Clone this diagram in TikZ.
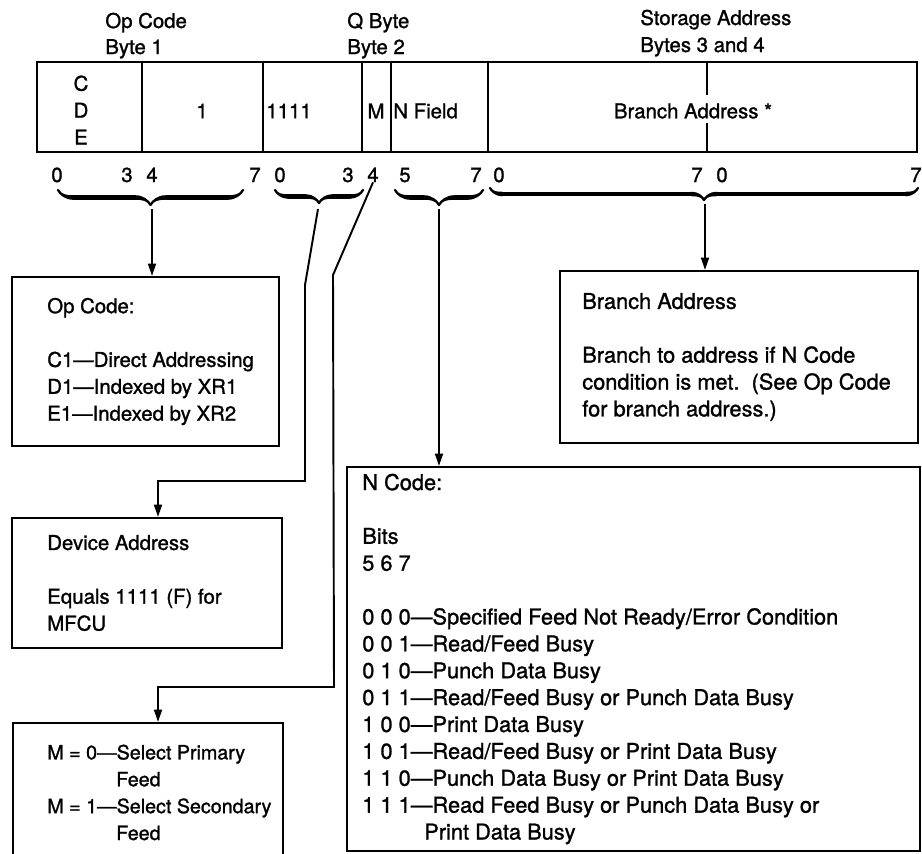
\documentclass[tikz,border=0pt]{standalone}
\usepackage{fontspec}
\setmainfont{TeX Gyre Heros}[RawFeature={embolden=1.2}]
\usetikzlibrary{arrows.meta, positioning, fit, decorations.pathreplacing, calligraphy}

\newcommand{\ibm}{\fontsize{11.6}{15.3}\selectfont}
\newcommand{\ibmnarrow}{\fontsize{11.2}{15.3}\selectfont}
\newcommand{\ibmwide}{\fontsize{12.4}{15.3}\selectfont}

\begin{document}
\begin{tikzpicture}[
  x=0.02cm, y=-0.02cm,
  field/.style={draw, line width=1.2pt, inner sep=0pt},
  panel/.style={draw, line width=1.2pt, inner sep=0pt},
  hdr/.style={font=\ibm, anchor=base west, inner sep=0pt},
  bit/.style={font=\ibm, anchor=base, inner sep=0pt},
  ftext/.style={font=\ibm, inner sep=0pt, align=center},
  btext/.style={font=\ibm, anchor=west, align=left, inner sep=0pt},
  link/.style={line width=1.1pt},
  arrow/.style={line width=1.1pt, -{Triangle[length=7pt, width=4.5pt]}},
  cbrace/.style={decorate, decoration={calligraphic brace, amplitude=#1}, line width=2.6pt}
]
\path[use as bounding box, clip] (0,0) rectangle (922,853);

% ---- Headers ----
\node[hdr] (h_op)   at (105,28) {Op Code};
\node[hdr] (h_b1)   at (105,54) {Byte 1};
\node[hdr] (h_q)    at (347,28) {Q Byte};
\node[hdr] (h_b2)   at (347,54) {Byte 2};
\node[hdr] (h_st)   at (640,25) {Storage Address};
\node[hdr] (h_b34)  at (640,52) {Bytes 3 and 4};

% ---- Instruction format ----
\node[field, fit={(37,62) (142,152)}]  (f_cde)  {};
\node[field, fit={(142,62) (263,152)}] (f_one)  {};
\node[field, fit={(263,62) (362,152)}] (f_dev)  {};
\node[field, fit={(362,62) (391,152)}] (f_m)    {};
\node[field, fit={(391,62) (488,152)}] (f_n)    {};
\node[field, fit={(488,62) (917,152)}] (f_addr) {};
\draw[line width=1.2pt] (707,62) -- (707,95) (707,123) -- (707,152);

\node[ftext] (t_cde) at (81,110) {C\\D\\E};
\node[ftext] (t_one) at (202,111) {1};
\node[ftext, anchor=west] (t_dev) at (266,111) {1111};
\node[ftext] (t_m) at (376,111) {M};
\node[ftext, anchor=west] (t_n) at (393,111) {N Field};
\node[ftext] (t_addr) at (693,111) {Branch Address *};

% ---- Bit numbers ----
\node[bit] (b0a) at (57,182)  {0};
\node[bit] (b3a) at (127,182) {3};
\node[bit] (b4a) at (152,182) {4};
\node[bit] (b7a) at (255,182) {7};
\node[bit] (b0q) at (280,182) {0};
\node[bit] (b3q) at (348,182) {3};
\node[bit] (b4q) at (373,182) {4};
\node[bit] (b5q) at (405,182) {5};
\node[bit] (b7q) at (476,182) {7};
\node[bit] (b0s) at (499,182) {0};
\node[bit] (b7s) at (697,182) {7};
\node[bit] (b0t) at (722,182) {0};
\node[bit] (b7t) at (916,182) {7};

% ---- Braces ----
\draw[cbrace=0.3cm]  (243,190) -- (58,190);
\draw[cbrace=0.26cm] (363,190) -- (275,190);
\draw[cbrace=0.3cm]  (483,190) -- (395,190);
\draw[cbrace=0.24cm] (918,188) -- (490,188);
\coordinate (tip_op)  at (152,209);
\coordinate (tip_dev) at (318,209);
\coordinate (tip_n)   at (439,209);
\coordinate (tip_br)  at (705,204);

% ---- Description boxes ----
\node[panel, fit={(12,277) (279,446)}]  (opbox)  {};
\node[panel, fit={(12,518) (282,648)}]  (devbox) {};
\node[panel, fit={(13,723) (283,870)}]  (mbox)   {};
\node[panel, fit={(560,271) (918,443)}] (brbox)  {};
\node[panel, fit={(347,467) (920,851)}] (nbox)   {};

\node[btext] at ([xshift=0.72cm]opbox.west)
  {Op Code:\\[15.3pt]C1---Direct Addressing\\D1---Indexed by XR1\\E1---Indexed by XR2};
\node[btext] at ([xshift=0.72cm]devbox.west)
  {Device Address\\[15.3pt]Equals 1111 (F) for\\MFCU};
\node[btext, font=\ibmnarrow] at ([xshift=0.70cm, yshift=0.08cm]mbox.west)
  {M = 0---Select Primary\\\hspace*{1.38cm}Feed\\M = 1---Select Secondary\\\hspace*{1.38cm}Feed};
\node[btext, font=\ibmwide] at ([xshift=0.46cm]brbox.west)
  {Branch Address\\[15.3pt]Branch to address if N Code\\condition is met.~~(See Op Code\\for branch address.)};
\node[btext, font=\ibmwide] at ([xshift=0.32cm]nbox.west)
  {N Code:\\[15.3pt]Bits\\5 6 7\\[15.3pt]
   0 0 0---Specified Feed Not Ready/Error Condition\\
   0 0 1---Read/Feed Busy\\
   0 1 0---Punch Data Busy\\
   0 1 1---Read/Feed Busy or Punch Data Busy\\
   1 0 0---Print Data Busy\\
   1 0 1---Read/Feed Busy or Print Data Busy\\
   1 1 0---Punch Data Busy or Print Data Busy\\
   1 1 1---Read Feed Busy or Punch Data Busy or\\
   \hspace*{1.24cm}Print Data Busy};

% ---- Connectors ----
\draw[arrow] (tip_op) -- (tip_op |- opbox.north);
\coordinate (k_dev) at (158,481);
\draw[arrow] (tip_dev) -- (305,285) -- (305,481) -- (k_dev) -- (k_dev |- devbox.north);
\coordinate (k_m) at (158,687);
\draw[arrow] (b4q.south) -- (333,275) -- (334,687) -- (k_m) -- (k_m |- mbox.north);
\draw[arrow] (tip_n) -- (tip_n |- nbox.north);
\draw[arrow] (tip_br) -- (tip_br |- brbox.north);

\end{tikzpicture}
\end{document}
